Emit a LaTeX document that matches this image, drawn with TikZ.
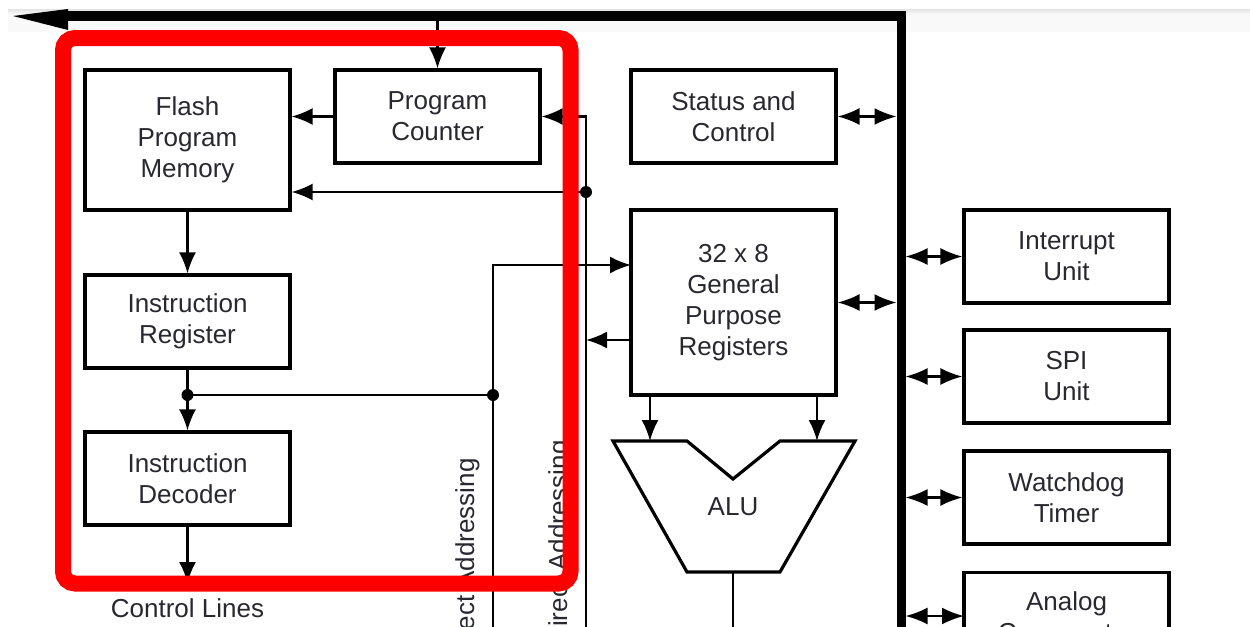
\documentclass[tikz,border=0pt]{standalone}
\usepackage{fontspec}
\setmainfont{Liberation Sans}
\usetikzlibrary{arrows.meta}
\definecolor{txt}{RGB}{40,40,48}
\definecolor{redbox}{RGB}{255,0,0}
\newcommand{\lblfont}{\fontsize{13pt}{15.5pt}\selectfont}
\tikzset{
  blk/.style={draw, line width=1.6pt, minimum width=102.5pt, inner sep=0pt, align=center, font=\lblfont, text=txt},
  lbl/.style={inner sep=0pt, font=\lblfont, text=txt},
  conn/.style={line width=1.1pt},
  arr/.style={conn, -{Latex[length=10.5pt,width=8.5pt]}},
  darr/.style={conn, {Latex[length=11pt,width=8.5pt]}-{Latex[length=11pt,width=8.5pt]}},
  dot/.style={fill=black},
}
\begin{document}
\begin{tikzpicture}[x=0.5pt,y=-0.5pt]
\useasboundingbox (0,0) rectangle (1250,627);
\clip (0,0) rectangle (1250,627);
\fill[white] (0,0) rectangle (1250,627);
% top grey strip
\fill[gray!5] (8,10) rectangle (1250,32);
\shade[top color=gray!22, bottom color=gray!5] (8,9) rectangle (1250,14);

% blocks
\node[blk, minimum height=70pt] (flash) at (187.5,140) {Flash\\Program\\Memory};
\node[blk, minimum height=46.5pt] (pc) at (437.5,116.5) {Program\\Counter};
\node[blk, minimum height=46.5pt] (stat) at (733.5,116.5) {Status and\\Control};
\node[blk, minimum height=92.5pt] (gpr) at (733.5,302.5) {32 x 8\\General\\Purpose\\Registers};
\node[blk, minimum height=46.5pt] (ir) at (187.5,321.5) {Instruction\\Register};
\node[blk, minimum height=46.5pt] (id) at (187.5,478.5) {Instruction\\Decoder};
\node[blk, minimum height=46.5pt] (intr) at (1066.5,256.5) {Interrupt\\Unit};
\node[blk, minimum height=46.5pt] (spi) at (1066.5,376.5) {SPI\\Unit};
\node[blk, minimum height=46.5pt] (wd) at (1066.5,497.5) {Watchdog\\Timer};
\node[blk, minimum height=46.5pt] (ac) at (1066.5,619) {Analog\\Comparator};

% ALU
\draw[line width=1.6pt, line join=miter] (613,441) -- (687,441) -- (733,479) -- (780,441) -- (855,441) -- (780,572) -- (687,572) -- cycle;
\node[lbl] (alu) at (733,507) {ALU};
\coordinate (aluB) at (733,572);
\coordinate (aluOut) at (733,640);
\draw[conn] (aluB) -- (aluOut);

% buses
\draw[line width=5pt] (60,15.5) -- (905.5,15.5);
\draw[line width=4.5pt] (901,11) -- (901,640);
\fill (13,16) -- (68,9) -- (68,30) -- cycle;
\coordinate (busL) at (896.5,0);
\coordinate (busR) at (905.5,0);

% bus to program counter
\coordinate (busPC) at (437.5,20);
\draw[arr] (busPC) -- (pc.north);

% program counter to flash
\draw[arr] (pc.west) -- (pc.west -| flash.east);

% right feedback line into PC and flash
\coordinate (bR) at (586,640);
\draw[arr] (bR) |- (pc.east);
\coordinate (dPC) at (586,192);
\fill[dot] (dPC) circle (3pt);
\draw[arr] (dPC) -- (dPC -| flash.east);

% flash -> IR -> ID -> control lines
\draw[arr] (flash.south) -- (ir.north);
\draw[arr] (ir.south) -- (id.north);
\coordinate (dIR) at (187.5,395);
\fill[dot] (dIR) circle (3pt);
\coordinate (cl) at (187.5,583);
\draw[arr] (id.south) -- (cl);
\node[lbl] (ctl) at (187.5,608) {Control Lines};

% direct addressing line
\coordinate (dB) at (493,395);
\fill[dot] (dB) circle (3pt);
\draw[conn] (dIR) -- (dB);
\coordinate (bB) at (493,640);
\coordinate (gin) at (631,265);
\draw[arr] (bB) |- (gin);

% GPR out to indirect line
\coordinate (gout) at (631,340);
\coordinate (gtip) at (586,340);
\draw[arr] (gout) -- (gtip);

% GPR to ALU
\coordinate (a1s) at (650,395);
\coordinate (a1e) at (650,441);
\coordinate (a2s) at (817,395);
\coordinate (a2e) at (817,441);
\draw[arr] (a1s) -- (a1e);
\draw[arr] (a2s) -- (a2e);

% bidirectional to bus
\draw[darr] (stat.east) -- (stat.east -| busL);
\draw[darr] (gpr.east) -- (gpr.east -| busL);
\draw[darr] (busR |- intr.west) -- (intr.west);
\draw[darr] (busR |- spi.west) -- (spi.west);
\draw[darr] (busR |- wd.west) -- (wd.west);
\coordinate (acIn) at (964,616);
\draw[darr] (busR |- acIn) -- (acIn);

% rotated labels
\node[lbl, rotate=90, anchor=base east] (da) at (474,458) {Direct Addressing};
\node[lbl, rotate=90, anchor=base east] (ia) at (567,440) {Indirect Addressing};

% red highlight
\draw[redbox, line width=8pt, rounded corners=6pt] (63,38) rectangle (570.5,583.5);
\end{tikzpicture}
\end{document}
